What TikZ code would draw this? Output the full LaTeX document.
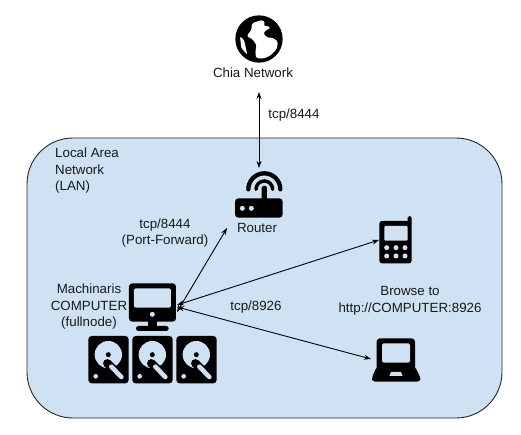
\documentclass[tikz,border=0pt]{standalone}
\usepackage{fontspec}
\setmainfont{Liberation Sans}
\usetikzlibrary{arrows.meta}
\definecolor{lanfill}{HTML}{CFE2F3}
\tikzset{
  lbl/.style={font=\fontsize{13.33}{16.5}\selectfont,align=center,inner sep=0pt,text=black!90},
  link/.style={draw=black,line width=0.9pt,{Stealth[length=7pt,width=5pt]}-{Stealth[length=7pt,width=5pt]}},
  hole/.style={fill=lanfill,draw=none},
}
\begin{document}
\begin{tikzpicture}[x=1pt,y=-1pt]
\useasboundingbox (0,0) rectangle (521,435);
\fill[white] (0,0) rectangle (521,435);
\draw[fill=lanfill,draw=black!85,line width=0.9pt,rounded corners=46pt] (27,138) rectangle (502,418);

% globe
\begin{scope}[shift={(232,12)},x=0.3333pt,y=-0.3333pt]
\fill[black] (81,81) circle (71);
\fill[white,rounded corners=1.5pt] (60,34) -- (76,28) -- (92,24) -- (100,34) -- (94,42) -- (108,42) -- (116,48) -- (100,56) -- (94,64) -- (104,76) -- (124,78) -- (138,90) -- (134,112) -- (116,130) -- (94,140) -- (72,138) -- (70,118) -- (74,100) -- (62,82) -- (44,72) -- (58,54) -- cycle;
\fill[white,rounded corners=1pt] (24,74) -- (36,84) -- (46,128) -- (28,108) -- cycle;
\end{scope}
\node[lbl] (chia) at (253,73) {Chia Network};

% router
\begin{scope}[shift={(210,150)},x=0.3333pt,y=-0.3333pt]
\fill[black,rounded corners=3.3pt] (75,145) rectangle (218,203);
\fill[black,rounded corners=1.5pt] (155,108) rectangle (171,150);
\fill[hole] (97,175) circle (7.5) (124,175) circle (7.5);
\draw[line width=4.3pt,line cap=round] (115,118) arc (180:360:48);
\draw[line width=3.5pt,line cap=round] (138,118) arc (180:360:25);
\end{scope}
\node[lbl] (router) at (257,228) {Router};

% computer
\begin{scope}[shift={(50,270)},x=0.3333pt,y=-0.3333pt]
\fill[black,rounded corners=3.3pt] (237,40) rectangle (378,155);
\fill[hole,rounded corners=2pt] (252,55) rectangle (363,113);
\fill[hole] (307,133) circle (7.5);
\fill[black] (295,150) rectangle (320,172);
\fill[black,rounded corners=2.4pt] (258,168) rectangle (356,183);
\foreach \dx in {0,132,264}{
  \begin{scope}[shift={(\dx,0)}]
  \fill[black,rounded corners=3.3pt] (115,198) rectangle (236,340);
  \fill[hole] (175,254) circle (41);
  \fill[black] (175,254) circle (7.5);
  \draw[black,line width=8.5pt,line cap=round] (172,280) -- (215,322);
  \draw[lanfill,line width=4.6pt,line cap=round] (184,290) -- (214,321);
  \fill[hole] (137,319) circle (7);
  \end{scope}
}
\end{scope}
\node[lbl] (mach) at (89,307) {Machinaris\\COMPUTER\\(fullnode)};

% phone
\begin{scope}[shift={(360,210)},x=0.3333pt,y=-0.3333pt]
\fill[black,rounded corners=2.6pt] (58,33) rectangle (155,160);
\fill[black,rounded corners=1.8pt] (143,18) rectangle (155,45);
\fill[hole,rounded corners=1pt] (73,48) rectangle (143,92);
\foreach \kx in {80,108,135}\foreach \ky in {113,138}{\fill[hole] (\kx,\ky) circle (7.5);}
\end{scope}

% laptop
\begin{scope}[shift={(350,330)},x=0.3333pt,y=-0.3333pt]
\fill[black,rounded corners=3.3pt] (80,25) rectangle (195,125);
\fill[black,rounded corners=3pt] (80,110) -- (195,110) -- (211,142) -- (211,155) -- (66,155) -- (66,142) -- cycle;
\fill[hole,rounded corners=1.5pt] (96,40) rectangle (180,98);
\fill[hole] (123,126) -- (153,126) -- (158,138) -- (118,138) -- cycle;
\end{scope}

% named connector ends
\coordinate (netPort) at (259,92);
\coordinate (routerTop) at (259,168);
\coordinate (routerPort) at (227,228);
\coordinate (compA) at (177,312);
\coordinate (compB) at (177,305);
\coordinate (compC) at (177,307);
\coordinate (phonePort) at (379,240);
\coordinate (laptopPort) at (371,359);
\draw[link] (netPort) -- (routerTop);
\draw[link] (compA) -- (routerPort);
\draw[link] (compB) -- (phonePort);
\draw[link] (compC) -- (laptopPort);

\node[lbl] (tcpa) at (294,115) {tcp/8444};
\node[lbl,align=left,anchor=west] (lan) at (55,171) {Local Area\\Network\\(LAN)};
\node[lbl] (tcpb) at (165,233) {tcp/8444\\(Port-Forward)};
\node[lbl] (tcpc) at (256,307) {tcp/8926};
\node[lbl] (browse) at (410,301) {Browse to\\http://COMPUTER:8926};
\end{tikzpicture}
\end{document}
